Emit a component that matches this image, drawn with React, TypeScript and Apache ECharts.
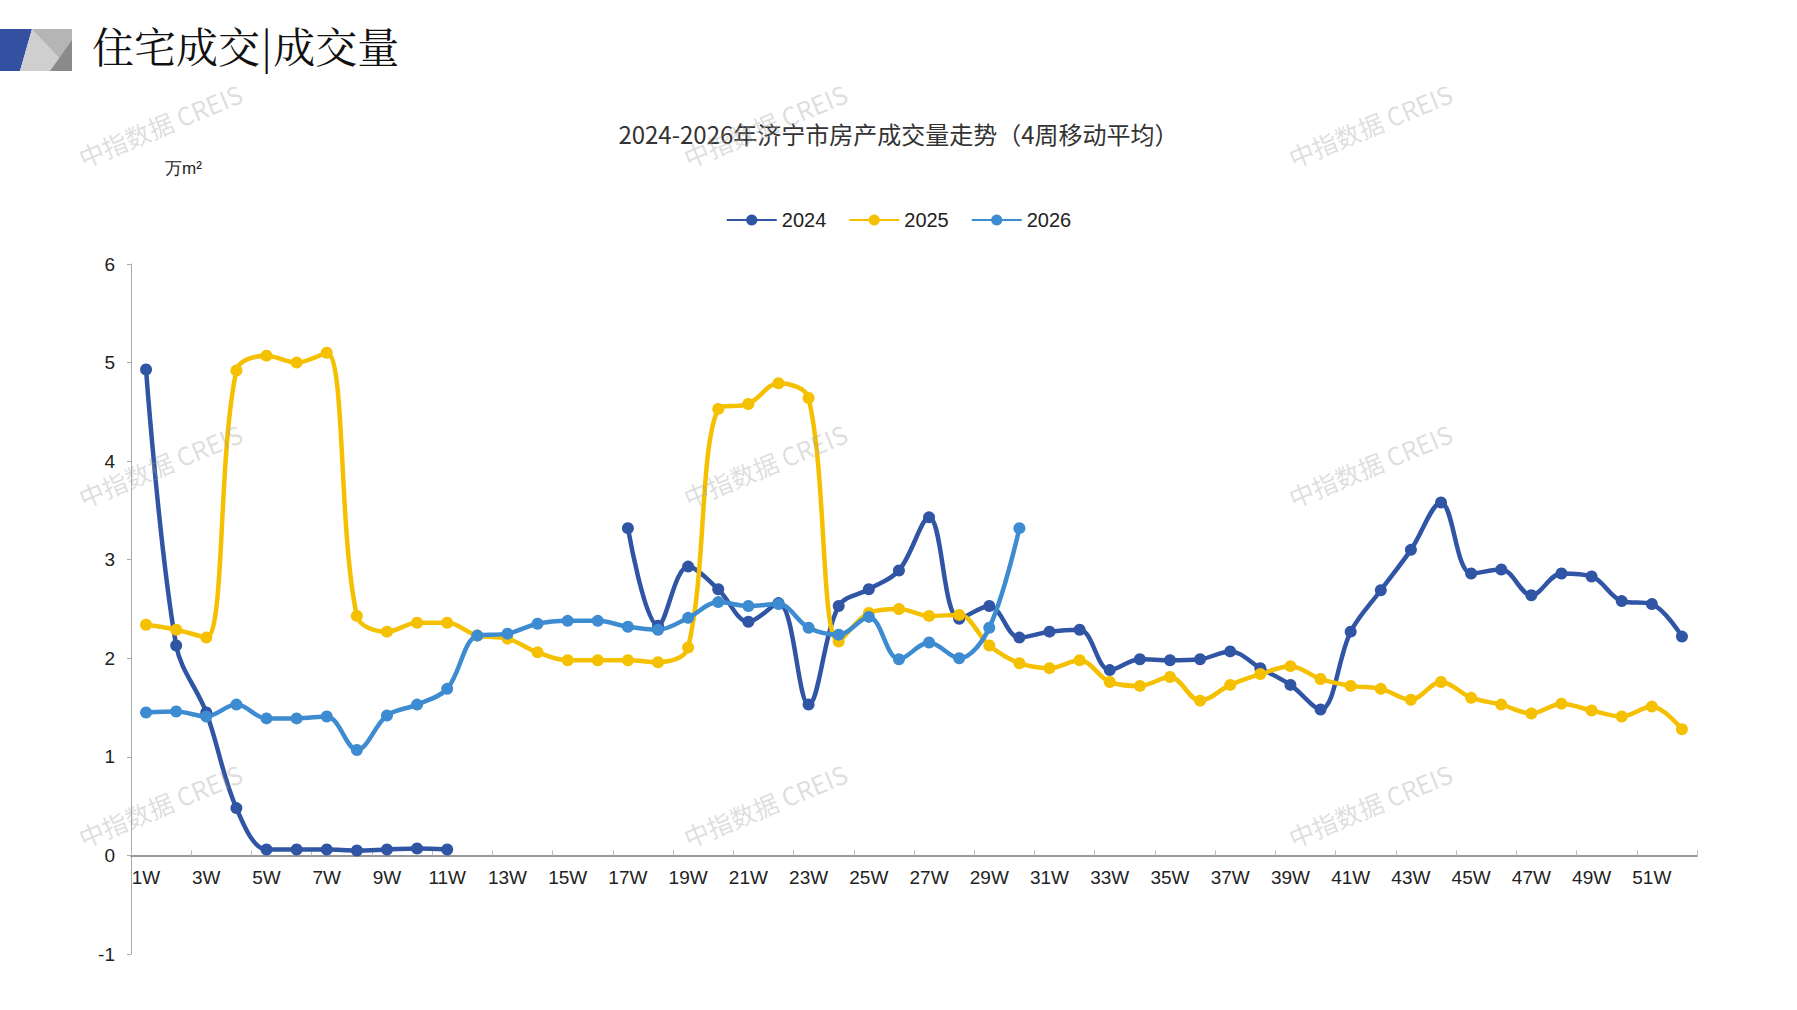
import React, { useEffect, useRef } from "react";
import * as echarts from "echarts";

const weeks = Array.from({ length: 52 }, (_, i) => `${i + 1}W`);

const s2024: (number | null)[] = [
  4.93, 2.13, 1.45, 0.48, 0.06, 0.06, 0.06, 0.05, 0.06, 0.07, 0.06,
  null, null, null, null, null,
  3.32, 2.33, 2.93, 2.7, 2.37, 2.56, 1.53, 2.53, 2.7, 2.89, 3.43, 2.4, 2.53, 2.21,
  2.27, 2.29, 1.88, 1.99, 1.98, 1.99, 2.07, 1.9, 1.73, 1.48, 2.27, 2.69, 3.1, 3.58,
  2.86, 2.9, 2.64, 2.86, 2.83, 2.58, 2.55, 2.22,
];
const s2025: number[] = [
  2.34, 2.29, 2.21, 4.92, 5.07, 5.0, 5.1, 2.43, 2.27, 2.36, 2.36, 2.23, 2.2, 2.06,
  1.98, 1.98, 1.98, 1.96, 2.11, 4.53, 4.58, 4.79, 4.64, 2.17, 2.46, 2.5, 2.43, 2.44,
  2.13, 1.95, 1.9, 1.98, 1.76, 1.72, 1.81, 1.57, 1.73, 1.84, 1.92, 1.79, 1.72, 1.69,
  1.58, 1.76, 1.6, 1.53, 1.44, 1.54, 1.47, 1.41, 1.51, 1.28,
];
const s2026: number[] = [
  1.45, 1.46, 1.41, 1.53, 1.39, 1.39, 1.41, 1.07, 1.42, 1.53, 1.69, 2.23, 2.25, 2.35,
  2.38, 2.38, 2.32, 2.29, 2.41, 2.57, 2.53, 2.55, 2.31, 2.24, 2.42, 1.99, 2.16, 2.0,
  2.31, 3.32,
];

const watermarkPos = [
  [160, 125], [765, 125], [1370, 125],
  [160, 465], [765, 465], [1370, 465],
  [160, 805], [765, 805], [1370, 805],
];

const narrow = "Liberation Sans Narrow, Arial Narrow, sans-serif";

const App: React.FC = () => {
  const ref = useRef<HTMLDivElement>(null);

  useEffect(() => {
    document.body.style.margin = "0";
    if (!ref.current) return;
    const chart = echarts.init(ref.current, undefined, { renderer: "svg" });

    const line = (name: string, data: (number | null)[], color: string) => ({
      name,
      type: "line" as const,
      data,
      smooth: 0.35,
      color,
      symbol: "circle",
      symbolSize: 12,
      lineStyle: { width: 4.5, color },
      itemStyle: { color },
    });

    chart.setOption({
      animation: false,
      backgroundColor: "#fff",
      title: {
        text: "2024-2026年济宁市房产成交量走势（4周移动平均）",
        left: "center",
        top: 116,
        textStyle: { fontSize: 24, fontWeight: "normal", color: "#333", fontFamily: "Noto Sans CJK SC" },
      },
      legend: {
        top: 205,
        left: "center",
        itemWidth: 50,
        itemHeight: 14,
        itemGap: 22,
        textStyle: { fontSize: 20, color: "#222", fontFamily: narrow },
        data: ["2024", "2025", "2026"],
      },
      graphic: [
        { type: "polygon", shape: { points: [[0, 29], [32, 29], [20, 71], [0, 71]] }, style: { fill: "#3450A0" } },
        { type: "polygon", shape: { points: [[32, 29], [72, 29], [72, 71], [20, 71]] }, style: { fill: "#cfcfcf" } },
        { type: "polygon", shape: { points: [[32, 29], [72, 29], [72, 71]] }, style: { fill: "#b5b5b5" } },
        { type: "polygon", shape: { points: [[72, 40], [72, 71], [50, 71]] }, style: { fill: "#8a8a8a" } },
        {
          type: "text", left: 92, top: 24,
          style: { text: "住宅成交|成交量", fontSize: 42, fill: "#111", fontFamily: "Noto Serif CJK SC, serif" },
        },
        {
          type: "text", left: 165, top: 160,
          style: { text: "万m²", fontSize: 17, fill: "#222" },
        },
        ...watermarkPos.map(([x, y]) => ({
          type: "text", x, y, rotation: Math.PI / 8, z: 100,
          style: {
            text: "中指数据 CREIS", fontSize: 25, fill: "rgba(160,160,160,0.35)",
            align: "center", verticalAlign: "middle", fontFamily: "Noto Sans CJK SC",
          },
        })),
      ],
      grid: { left: 131, right: 100, top: 264, bottom: 56 },
      xAxis: {
        type: "category",
        data: weeks,
        boundaryGap: true,
        axisLine: { onZero: true, lineStyle: { color: "#999", width: 2 } },
        axisTick: { show: true, lineStyle: { color: "#bbb" }, length: 5, inside: true },
        axisLabel: { interval: 1, fontSize: 19, color: "#222", margin: -86, fontFamily: narrow },
      },
      yAxis: {
        type: "value",
        min: -1,
        max: 6,
        interval: 1,
        splitLine: { show: false },
        axisLine: { show: true, lineStyle: { color: "#aaa" } },
        axisTick: { show: true, length: 4, lineStyle: { color: "#aaa" } },
        axisLabel: { fontSize: 19, color: "#222", margin: 16, fontFamily: narrow },
      },
      series: [
        line("2024", s2024, "#2F55A4"),
        line("2025", s2025, "#F5C000"),
        line("2026", s2026, "#3D8BD0"),
      ],
    });

    return () => chart.dispose();
  }, []);

  return <div ref={ref} style={{ width: 1797, height: 1010 }} />;
};

export default App;
